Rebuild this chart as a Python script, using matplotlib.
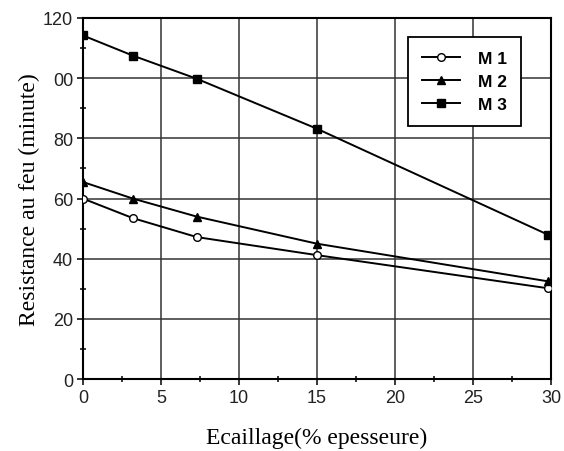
import matplotlib.pyplot as plt
from matplotlib.ticker import MultipleLocator

# Ecaillage (% epaisseur) vs fire resistance (minutes)
ECAILLAGE = [0, 3.2, 7.3, 15, 29.8]
M1 = [60, 53.5, 47.2, 41.2, 30.2]
M2 = [65.5, 60, 54, 45, 32.5]
M3 = [114.2, 107.5, 99.8, 83.2, 48]
SERIES = [('M 1', M1, 'o', 'white', 5.5), ('M 2', M2, '^', 'black', 5.5), ('M 3', M3, 's', 'black', 6)]
YTICKS = [0, 20, 40, 60, 80, 100, 120]
YLABELS = ['0', '20', '40', '60', '80', '00', '120']
XTICKS = [0, 5, 10, 15, 20, 25, 30]

SANS = 'Liberation Sans'
SERIF = 'Liberation Serif'

if __name__ == '__main__':
    fig = plt.figure(figsize=[5.64, 4.52], dpi=100)
    ax = fig.add_axes([0.147, 0.159, 0.830, 0.799])

    for label, vals, mk, fc, ms in SERIES:
        ax.plot(ECAILLAGE, vals, color='black', lw=1.4, marker=mk, ms=ms,
                mfc=fc, mec='black', mew=1.0, label=label, zorder=3)

    ax.set_xlim(0, 30)
    ax.set_ylim(0, 120)
    ax.set_xticks(XTICKS)
    ax.set_yticks(YTICKS)
    ax.set_yticklabels(YLABELS)
    ax.xaxis.set_minor_locator(MultipleLocator(2.5))
    ax.yaxis.set_minor_locator(MultipleLocator(10))
    ax.grid(True, which='major', color='#333333', lw=1.1)
    ax.set_axisbelow(True)
    for sp in ax.spines.values():
        sp.set_linewidth(1.5)
    ax.tick_params(which='major', direction='out', length=4, width=1.1, labelsize=13, pad=3)
    ax.tick_params(which='minor', direction='inout', length=4, width=1.1)
    for t in ax.get_xticklabels() + ax.get_yticklabels():
        t.set_fontfamily(SANS)
        t.set_color('#222222')

    ax.set_xlabel('Ecaillage(% epesseure)', fontfamily=SERIF, fontsize=17, labelpad=15)
    ax.set_ylabel('Resistance au feu (minute)', fontfamily=SERIF, fontsize=17, labelpad=2)

    leg = ax.legend(loc='upper right', bbox_to_anchor=(0.935, 0.948), borderaxespad=0,
                    fancybox=False, edgecolor='black', framealpha=1, handlelength=2.2,
                    borderpad=0.8, labelspacing=0.45, handletextpad=1.0,
                    prop={'family': SANS, 'size': 12.5, 'weight': 'bold'})
    leg.get_frame().set_linewidth(1.3)

    plt.savefig('out.png', dpi=100)
